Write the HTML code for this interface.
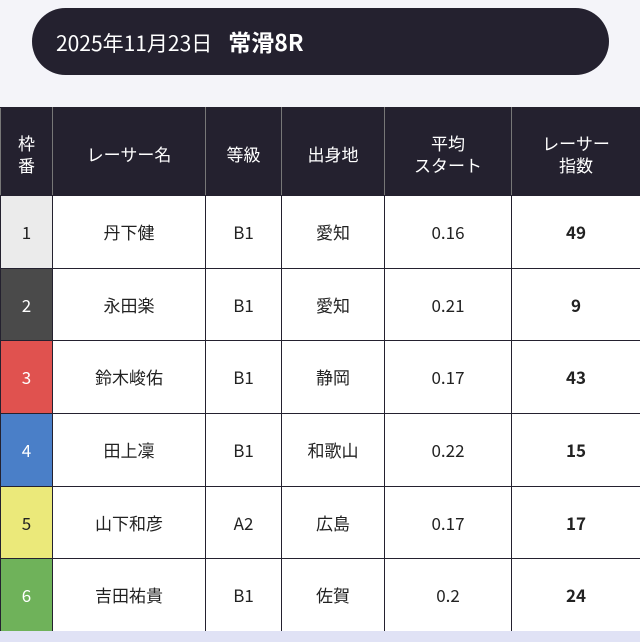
<!DOCTYPE html>
<html><head><meta charset="utf-8"><style>
*{margin:0;padding:0;box-sizing:border-box}
body{width:640px;height:642px;background:#f4f4f9;position:relative;overflow:hidden;font-family:"Noto Sans CJK JP","Liberation Sans",sans-serif}
.pill{position:absolute;left:32px;top:8px;width:577px;height:67px;background:#24212f;border-radius:34px;color:#fff;font-size:21px;line-height:67px;padding-left:24px}
.pill b{margin-left:16px;font-size:23px}
.bottom{position:absolute;left:0;top:631px;width:640px;height:11px;background:#e0e2f5}
table{position:absolute;left:0;top:107px;width:640px;border-collapse:collapse;table-layout:fixed}
td,th{text-align:center;vertical-align:middle;color:#222;font-size:17px;font-weight:normal;border:1.5px solid #24212f;line-height:20px}
th{background:#24212f;color:#fff;height:88px;line-height:22px;border-left:1px solid #777;border-right:1px solid #777;padding-top:4px}
td{background:#fff;height:72.7px}
td.b{font-weight:bold}
</style></head><body>
<div class="pill">2025年11月23日<b>常滑8R</b></div>
<table>
<colgroup><col style="width:52px"><col style="width:153px"><col style="width:76px"><col style="width:103px"><col style="width:127px"><col style="width:129px"></colgroup>
<tr><th>枠<br>番</th><th>レーサー名</th><th>等級</th><th>出身地</th><th>平均<br>スタート</th><th>レーサー<br>指数</th></tr>
<tr><td style="background:#ebebeb">1</td><td>丹下健</td><td>B1</td><td>愛知</td><td>0.16</td><td class="b">49</td></tr>
<tr><td style="background:#4a4a4a;color:#fff">2</td><td>永田楽</td><td>B1</td><td>愛知</td><td>0.21</td><td class="b">9</td></tr>
<tr><td style="background:#e0524f;color:#fff">3</td><td>鈴木峻佑</td><td>B1</td><td>静岡</td><td>0.17</td><td class="b">43</td></tr>
<tr><td style="background:#4a7fc8;color:#fff">4</td><td>田上凜</td><td>B1</td><td>和歌山</td><td>0.22</td><td class="b">15</td></tr>
<tr><td style="background:#ebe97a">5</td><td>山下和彦</td><td>A2</td><td>広島</td><td>0.17</td><td class="b">17</td></tr>
<tr><td style="background:#6fb25a;color:#fff">6</td><td>吉田祐貴</td><td>B1</td><td>佐賀</td><td>0.2</td><td class="b">24</td></tr>
</table>
<div class="bottom"></div>
</body></html>
